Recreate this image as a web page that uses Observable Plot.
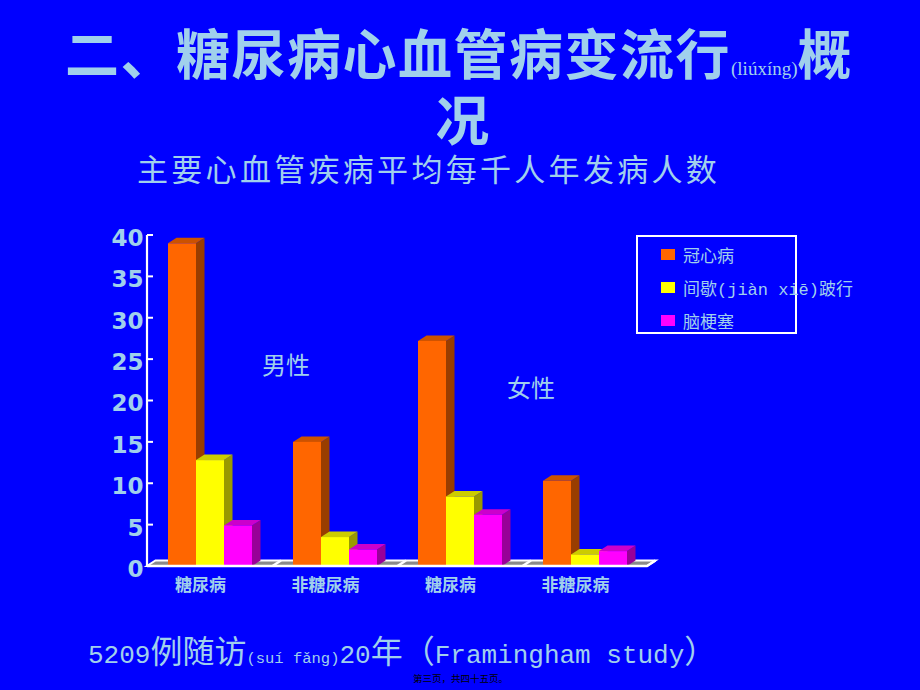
<!DOCTYPE html>
<html><head><meta charset="utf-8">
<script src="https://cdn.jsdelivr.net/npm/d3@7"></script>
<script src="https://cdn.jsdelivr.net/npm/@observablehq/plot@0.6"></script>
<style>
html,body{margin:0;padding:0;background:#0000ff;}
#page{position:relative;width:920px;height:690px;overflow:hidden;background:#0000ff;color:#a0d0ec;font-family:"Noto Sans CJK SC",sans-serif;}
.title{position:absolute;left:0;width:920px;text-align:center;font-size:54px;font-weight:bold;line-height:56px;height:56px;letter-spacing:1.5px;white-space:nowrap;}
#title1{top:24px;left:-1px;}
#title2{top:90px;left:3px;}
.title .py{font-family:"Liberation Serif",serif;font-size:19px;font-weight:normal;letter-spacing:0;vertical-align:baseline;line-height:0;}
#subtitle{position:absolute;left:137px;top:151px;font-size:31px;line-height:34px;height:34px;letter-spacing:3.3px;white-space:nowrap;}
#chart{position:absolute;left:0;top:215px;}
#legend{position:absolute;left:636px;top:235px;width:157px;height:95px;border:2px solid #fff;}
.item{position:absolute;left:23px;height:24px;display:flex;align-items:center;white-space:nowrap;font-size:17px;font-family:"Liberation Mono","Noto Sans CJK SC",monospace;}
.sw{width:14px;height:11px;margin-right:8px;flex:none;}
#caption{position:absolute;left:88px;top:640px;line-height:32px;height:32px;white-space:nowrap;}
.cjk{font-family:"Noto Sans CJK SC";font-size:32px;line-height:0;}
.mono{font-family:"Liberation Mono";font-size:26px;line-height:0;}
.sm{font-family:"Liberation Mono";font-size:15.5px;line-height:0;}
#footer{position:absolute;left:413px;top:673px;font-size:9.5px;line-height:11px;color:#000;white-space:nowrap;}
</style></head>
<body>
<div id="page">
  <div class="title" id="title1">二、糖尿病心血管病变流行<span class="py">(liúxíng)</span>概</div>
  <div class="title" id="title2">况</div>
  <div id="subtitle">主要心血管疾病平均每千人年发病人数</div>
  <div id="chart"></div>
  <div id="legend"></div>
  <div id="caption"><span class="mono">5209</span><span class="cjk">例随访</span><span class="sm">(suí fǎng)</span><span class="mono">20</span><span class="cjk">年（</span><span class="mono">Framingham study</span><span class="cjk">）</span></div>
  <div id="footer">第三页，共四十五页。</div>
</div>
<script>
// ---- data ----
const groupKeys = ["男性·糖尿病", "男性·非糖尿病", "女性·糖尿病", "女性·非糖尿病"];
const groupLabels = ["糖尿病", "非糖尿病", "糖尿病", "非糖尿病"];
const seriesNames = ["冠心病", "间歇(jiàn xiē)跛行", "脑梗塞"];
const seriesColors = ["#ff6600", "#ffff00", "#ff00ff"];
const chdValues = [39.0, 15.0, 27.2, 10.3];
const claudicationValues = [12.8, 3.5, 8.4, 1.4];
const strokeValues = [4.9, 2.0, 6.2, 1.8];
const yTicks = [0, 5, 10, 15, 20, 25, 30, 35, 40];
const sexLabels = ["男性", "女性"];
const sexLabelGroups = ["男性·糖尿病", "女性·糖尿病"];
const sexLabelValues = [24.2, 21.4];

const TEXT = "#a0d0ec";
const DX = 8.5, DY = 5.5;
const seriesValues = [chdValues, claudicationValues, strokeValues];
const rows = groupKeys.flatMap((g, i) => seriesValues.map((vals, s) => ({group: g, si: s, value: vals[i]})));
const sexNotes = sexLabels.map((t, i) => ({text: t, group: sexLabelGroups[i], value: sexLabelValues[i]}));

function shade(c, f) { const r = d3.rgb(c); return d3.rgb(r.r * f, r.g * f, r.b * f).formatHex(); }
function poly(g, pts, fill) { g.append("polygon").attr("points", pts.map(p => p.join(",")).join(" ")).attr("fill", fill); }

function floorMark(index, scales, values, dims) {
  const sx = scales.x, sy = scales.y;
  const xl = dims.marginLeft, xr = dims.width - dims.marginRight, y0 = sy(0);
  const g = d3.create("svg:g");
  g.append("polygon")
    .attr("points", [[xl, y0], [xr, y0], [xr + DX, y0 - DY], [xl + DX, y0 - DY]].map(p => p.join(",")).join(" "))
    .attr("fill", "#8a8a8a").attr("stroke", "#fff").attr("stroke-width", 2);
  const step = typeof sx.step === "function" ? sx.step() : sx.step;
  const pin = typeof sx.paddingInner === "function" ? sx.paddingInner() : 0.328;
  groupKeys.slice(1).forEach(k => {
    const xb = sx(k) - step * pin / 2;
    g.append("line").attr("x1", xb).attr("y1", y0).attr("x2", xb + DX).attr("y2", y0 - DY)
      .attr("stroke", "#fff").attr("stroke-width", 2.5);
  });
  g.append("line").attr("x1", xl).attr("x2", xl).attr("y1", y0).attr("y2", sy(yTicks[yTicks.length - 1]))
    .attr("stroke", "#fff").attr("stroke-width", 2.2);
  yTicks.forEach(t => {
    g.append("line").attr("x1", xl).attr("x2", xl + 6).attr("y1", sy(t)).attr("y2", sy(t))
      .attr("stroke", "#fff").attr("stroke-width", 2);
  });
  return g.node();
}

function barsMark(index, scales, values, dims) {
  const sx = scales.x, sy = scales.y;
  const bw = typeof sx.bandwidth === "function" ? sx.bandwidth() : sx.bandwidth;
  const w = bw / seriesNames.length;
  const y0 = sy(0);
  const g = d3.create("svg:g");
  for (const r of rows) {
    const x0 = sx(r.group) + r.si * w, x1 = x0 + w, yt = sy(r.value);
    const c = seriesColors[r.si];
    poly(g, [[x1, yt], [x1 + DX, yt - DY], [x1 + DX, y0 - DY], [x1, y0]], shade(c, 0.6));
    poly(g, [[x0, yt], [x0 + DX, yt - DY], [x1 + DX, yt - DY], [x1, yt]], shade(c, 0.8));
    g.append("rect").attr("x", x0).attr("y", yt).attr("width", w).attr("height", y0 - yt).attr("fill", c);
  }
  const xl = dims.marginLeft, xr = dims.width - dims.marginRight;
  g.append("polyline").attr("points", [[xl, y0], [xr, y0], [xr + DX, y0 - DY]].map(p => p.join(",")).join(" "))
    .attr("fill", "none").attr("stroke", "#fff").attr("stroke-width", 2.5);
  return g.node();
}

const plot = Plot.plot({
  width: 920,
  height: 390,
  marginTop: 20,
  marginBottom: 39,
  marginLeft: 147,
  marginRight: 273,
  style: {background: "transparent", overflow: "visible", fontFamily: "'Noto Sans CJK SC', sans-serif"},
  x: {type: "band", domain: groupKeys, paddingInner: 0.328, paddingOuter: 0.164, label: null},
  y: {domain: [0, 40], label: null},
  marks: [
    floorMark,
    Plot.axisY({ticks: yTicks, tickSize: 0, tickPadding: 4, dy: 3, fontSize: 23, fontWeight: "bold",
      fontFamily: "'DejaVu Sans', sans-serif", color: TEXT, label: null}),
    Plot.axisX({tickSize: 0, tickPadding: 12, dx: -10, fontSize: 17, fontWeight: "bold", color: TEXT, label: null,
      tickFormat: d => groupLabels[groupKeys.indexOf(d)]}),
    barsMark,
    Plot.text([sexNotes[0]], {x: "group", y: "value", text: "text", dx: 75.5, fontSize: 24, fill: TEXT}),
    Plot.text([sexNotes[1]], {x: "group", y: "value", text: "text", dx: 70.5, fontSize: 24, fill: TEXT})
  ]
});
document.getElementById("chart").appendChild(plot);

// legend
const legend = document.getElementById("legend");
seriesNames.forEach((name, i) => {
  const item = document.createElement("div");
  item.className = "item";
  item.style.top = (5.5 + i * 33) + "px";
  const sw = document.createElement("span");
  sw.className = "sw";
  sw.style.background = seriesColors[i];
  const label = document.createElement("span");
  label.textContent = name;
  item.appendChild(sw);
  item.appendChild(label);
  legend.appendChild(item);
});
</script>
</body></html>
